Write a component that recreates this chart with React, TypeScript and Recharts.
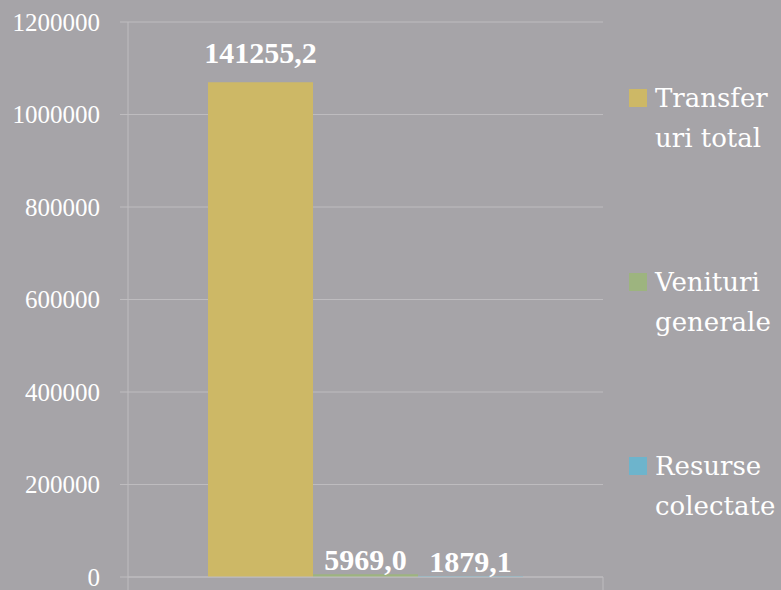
import { Bar, BarChart, CartesianGrid, Legend, XAxis, YAxis } from "recharts";

const CATEGORIES = ["Total"];
const SERIES_KEYS = ["transferuri", "venituri", "resurse"];
const SERIES_NAMES = ["Transferuri total", "Venituri generale", "Resurse colectate"];
const BAR_VALUES = [1070000, 5969.0, 1879.1];
const LABEL_TEXT = ["141255,2", "5969,0", "1879,1"];
const LEGEND_LINES = [
  ["Transfer", "uri total"],
  ["Venituri", "generale"],
  ["Resurse", "colectate"],
];
const Y_TICKS = [0, 200000, 400000, 600000, 800000, 1000000, 1200000];

const COLORS = ["#cdb866", "#9db47f", "#6db4cc"];
const LABEL_OFFSET = [19, 4, 4];
const BG = "#a6a4a8";
const GRID = "#bebcbf";
const SERIF = "'Liberation Serif', 'Times New Roman', serif";

const data = CATEGORIES.map((name) => {
  const row: Record<string, string | number> = { name };
  SERIES_KEYS.forEach((k, i) => (row[k] = BAR_VALUES[i]));
  return row;
});

// category-boundary tick marks under the x axis
function BoundaryTick(props: any) {
  const { x, y, payload } = props;
  const half = payload?.offset ?? 0;
  return (
    <g>
      <line x1={x - half} x2={x - half} y1={y} y2={y + 13} stroke={GRID} />
      <line x1={x + half} x2={x + half} y1={y} y2={y + 13} stroke={GRID} />
    </g>
  );
}

function LegendBox() {
  return (
    <div style={{ paddingTop: 78, fontFamily: "'DejaVu Serif', serif", fontSize: 26, lineHeight: "40px", color: "#fff" }}>
      {LEGEND_LINES.map((lines, i) => (
        <div key={i} style={{ display: "flex", height: 80, marginBottom: 104 }}>
          <div style={{ width: 18, height: 18, marginTop: 11, marginLeft: 18, marginRight: 8, background: COLORS[i] }} />
          <div>
            {lines.map((l) => (
              <div key={l}>{l}</div>
            ))}
          </div>
        </div>
      ))}
    </div>
  );
}

function makeLabel(i: number) {
  return (p: any) => (
    <text
      x={p.x + p.width / 2}
      y={p.y - LABEL_OFFSET[i]}
      textAnchor="middle"
      fill="#fff"
      fontFamily={SERIF}
      fontWeight="bold"
      fontSize={30}
    >
      {LABEL_TEXT[i]}
    </text>
  );
}

export default function App() {
  return (
    <div style={{ position: "absolute", left: 0, top: 0, width: 781, height: 590, background: BG }}>
      <BarChart
        width={781}
        height={590}
        data={data}
        margin={{ top: 22, right: 8, bottom: 0, left: 0 }}
        barCategoryGap={80}
        barGap={0}
      >
        <CartesianGrid vertical={false} stroke={GRID} />
        <XAxis
          dataKey="name"
          height={13}
          axisLine={{ stroke: GRID }}
          tickLine={false}
          tickSize={0}
          tickMargin={0}
          tick={<BoundaryTick />}
        />
        <YAxis
          width={128}
          domain={[0, 1200000]}
          ticks={Y_TICKS}
          interval={0}
          axisLine={{ stroke: GRID }}
          tickLine={{ stroke: GRID }}
          tickSize={8}
          tickMargin={20}
          tick={{ fill: "#fff", fontSize: 25, fontFamily: SERIF }}
        />
        <Legend
          layout="vertical"
          align="right"
          verticalAlign="top"
          wrapperStyle={{ top: 0, right: 0, width: 170, height: 590 }}
          content={<LegendBox />}
        />
        {SERIES_KEYS.map((k, i) => (
          <Bar
            key={k}
            dataKey={k}
            name={SERIES_NAMES[i]}
            fill={COLORS[i]}
            isAnimationActive={false}
            label={makeLabel(i)}
          />
        ))}
      </BarChart>
    </div>
  );
}
